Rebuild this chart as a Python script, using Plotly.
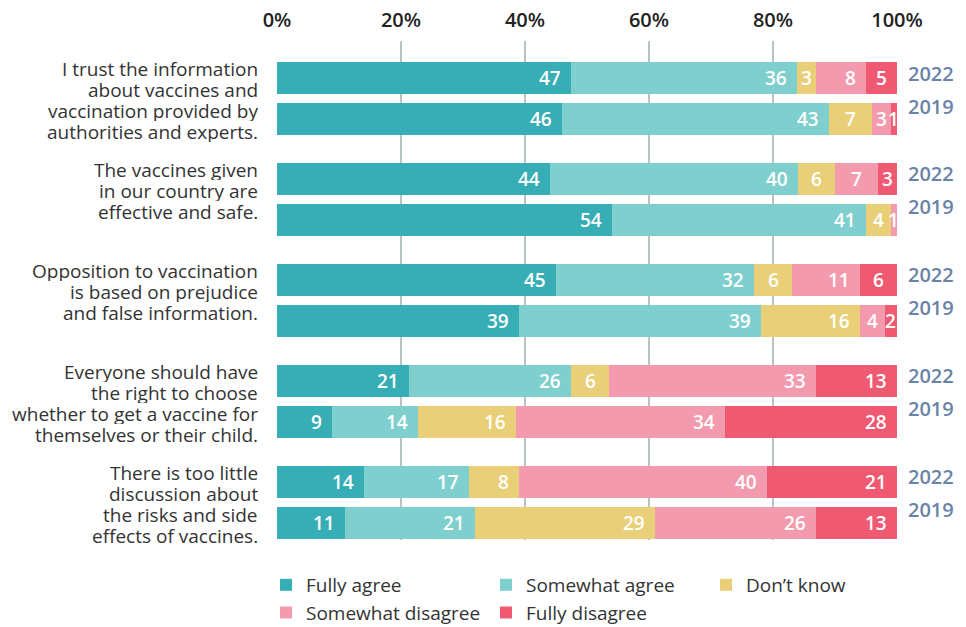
import plotly.graph_objects as go

# Survey statements (line breaks as printed beside each pair of bars)
statements = [
    ["I trust the information", "about vaccines and", "vaccination provided by", "authorities and experts."],
    ["The vaccines given", "in our country are", "effective and safe."],
    ["Opposition to vaccination", "is based on prejudice", "and false information."],
    ["Everyone should have", "the right to choose", "whether to get a vaccine for", "themselves or their child."],
    ["There is too little", "discussion about", "the risks and side", "effects of vaccines."],
]
years = ["2022", "2019"]
responses = ["Fully agree", "Somewhat agree", "Don’t know", "Somewhat disagree", "Fully disagree"]

# Shares (%) per statement, each as [2022, 2019]
fully_agree       = [[47, 46], [44, 54], [45, 39], [21,  9], [14, 11]]
somewhat_agree    = [[36, 43], [40, 41], [32, 39], [26, 14], [17, 21]]
dont_know         = [[ 3,  7], [ 6,  4], [ 6, 16], [ 6, 16], [ 8, 29]]
somewhat_disagree = [[ 8,  3], [ 7,  1], [11,  4], [33, 34], [40, 26]]
fully_disagree    = [[ 5,  1], [ 3,  0], [ 6,  2], [13, 28], [21, 13]]

tick_vals = [0, 20, 40, 60, 80, 100]
tick_text = ["0%", "20%", "40%", "60%", "80%", "100%"]

series = [fully_agree, somewhat_agree, dont_know, somewhat_disagree, fully_disagree]
colors = ["#37aeb5", "#7fcfcf", "#e8cf78", "#f49aae", "#ef5a72"]

FONT = "Open Sans"
GROUP_STEP = 2.463   # distance between statement groups, in bar slots
BAR_WIDTH = 0.78
SLOT_PX = 41         # pixel height of one bar slot
LEFT = 266           # left margin; the 0% line sits 11 px further right

# numeric row positions: statement g, year k
rows = []
for g in range(len(statements)):
    for k in range(len(years)):
        rows.append(g * GROUP_STEP + k)

fig = go.Figure()
flat = [[v for pair in s for v in pair] for s in series]
totals = [sum(col) for col in zip(*flat)]

for name, vals, color in zip(responses, flat, colors):
    fig.add_trace(go.Bar(
        name=name,
        x=vals,
        y=rows,
        orientation="h",
        width=BAR_WIDTH,
        marker=dict(color=color, line=dict(width=0)),
        hoverinfo="name+x",
    ))

# value labels inside the segments (positions follow the normalised stack)
annotations = []
for i, row in enumerate(rows):
    cum = 0.0
    for vals in flat:
        v = vals[i]
        x0 = cum / totals[i] * 100
        cum += v
        x1 = cum / totals[i] * 100
        if v <= 0:
            continue
        if x1 - x0 >= 8:
            ax, anchor, shift = x1, "right", -8
        else:
            ax, anchor, shift = (x0 + x1) / 2, "center", 0
        annotations.append(dict(
            x=ax, y=row, xref="x", yref="y", text=str(v), showarrow=False,
            xanchor=anchor, xshift=shift, yanchor="middle",
            font=dict(family=FONT, size=19, color="white", weight=600),
        ))

# statement text, top-aligned with the 2022 bar, one annotation per line
for g, lines in enumerate(statements):
    top_row = g * GROUP_STEP
    for j, line in enumerate(lines):
        annotations.append(dict(
            x=0, y=top_row, xref="x", yref="y", text=line, showarrow=False,
            xanchor="right", yanchor="middle", xshift=-17,
            yshift=9.5 - 21 * j, height=21,
            font=dict(family=FONT, size=19, color="#333333"),
        ))

# year labels to the right of each pair
for g in range(len(statements)):
    for k, yr in enumerate(years):
        annotations.append(dict(
            x=100, y=g * GROUP_STEP + k, xref="x", yref="y", text=yr, showarrow=False,
            xanchor="left", yanchor="middle", xshift=9,
            yshift=5 if k == 0 else 13,
            font=dict(family=FONT, size=20, color="#6a83a8", weight=600),
        ))

plot_w = 966 - LEFT
fig.update_layout(
    width=966, height=627,
    barmode="stack", barnorm="percent",
    margin=dict(l=LEFT, r=0, t=41, b=627 - 540, pad=0, autoexpand=False),
    paper_bgcolor="white", plot_bgcolor="white",
    font=dict(family=FONT, color="#333333"),
    xaxis=dict(
        domain=[11 / plot_w, 631 / plot_w], range=[0, 100], side="top",
        tickvals=tick_vals, ticktext=tick_text,
        tickfont=dict(family=FONT, size=20, color="#222222", weight=600),
        showgrid=True, gridcolor="#b8c3c3", gridwidth=1.5,
        zeroline=False, showline=False, ticks="", ticklabelstandoff=9,
        fixedrange=True,
    ),
    yaxis=dict(
        range=[(540 - 78) / SLOT_PX, -37 / SLOT_PX],
        showticklabels=False, showgrid=False, zeroline=False, ticks="",
        fixedrange=True,
    ),
    showlegend=True,
    legend=dict(
        orientation="h", x=0, xanchor="left", y=-0.052, yanchor="top",
        entrywidth=175, traceorder="normal",
        font=dict(family=FONT, size=19, color="#333333"),
        bgcolor="rgba(0,0,0,0)",
    ),
    annotations=annotations,
    bargap=0,
)

fig.write_html("out.html")
